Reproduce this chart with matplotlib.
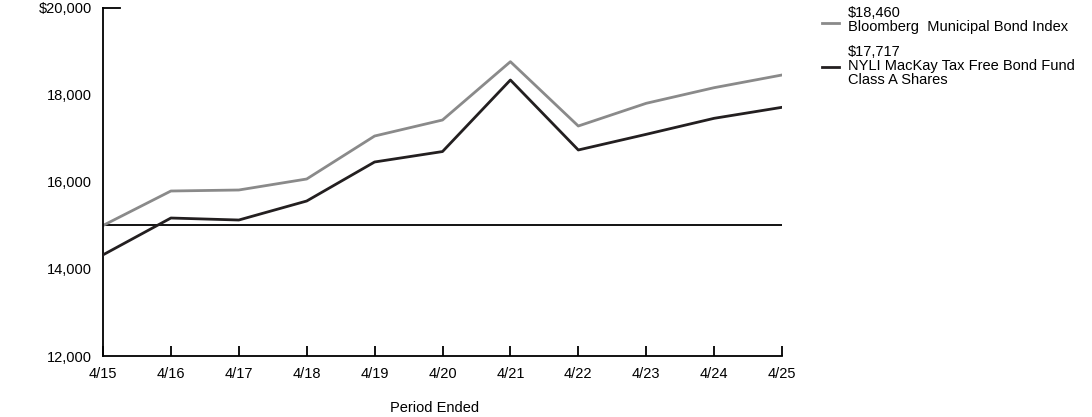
import numpy as np
import matplotlib.pyplot as plt

plt.rcParams['font.family'] = ['Liberation Sans', 'DejaVu Sans']

periods = ["4/15", "4/16", "4/17", "4/18", "4/19", "4/20", "4/21", "4/22", "4/23", "4/24", "4/25"]
index_values = [15000, 15793, 15816, 16069, 17057, 17425, 18766, 17287, 17809, 18168, 18460]
fund_values = [14325, 15172, 15126, 15563, 16460, 16700, 18345, 16736, 17096, 17464, 17717]
yticks = [12000, 14000, 16000, 18000, 20000]
ylabels = ["12,000", "14,000", "16,000", "18,000", "$20,000"]

index_color = "#8a8a8a"
fund_color = "#231f20"

fig = plt.figure(figsize=(10.92, 4.17), dpi=100)
ax = fig.add_axes([103/1092, 1-356/417, (782-103)/1092, (356-8)/417])

x = np.arange(len(periods))
ax.axhline(15000, color="black", lw=1.3, zorder=1)
ax.plot(x, index_values, color=index_color, lw=2, zorder=2)
ax.plot(x, fund_values, color=fund_color, lw=2, zorder=3)
# short mark at the top of the y axis
ax.axhline(20000, xmin=0, xmax=17/679, color="black", lw=1.3, clip_on=False)

ax.set_xlim(0, len(periods)-1)
ax.set_ylim(12000, 20000)
ax.set_xticks(x)
ax.set_xticklabels(periods, fontsize=10.5)
ax.set_yticks(yticks)
ax.set_yticklabels(ylabels, fontsize=10.5)
ax.tick_params(axis="x", direction="in", length=7, width=1.3, pad=8)
ax.tick_params(axis="y", length=0, pad=8)

for s in ["top", "right"]:
    ax.spines[s].set_visible(False)
ax.spines["left"].set_linewidth(1.3)
ax.spines["bottom"].set_linewidth(1.3)

fig.text(435/1092, 1-408/417, "Period Ended", ha="center", va="center", fontsize=10.5)

# legend drawn by hand
fig.add_artist(plt.Line2D([822/1092, 839/1092], [1-23/417, 1-23/417], color=index_color, lw=2))
fig.add_artist(plt.Line2D([822/1092, 839/1092], [1-67/417, 1-67/417], color=fund_color, lw=2))
fig.text(848/1092, 1-20/417, "$18,460\nBloomberg  Municipal Bond Index",
         ha="left", va="center", fontsize=10.5, linespacing=1.0)
fig.text(848/1092, 1-66/417, "$17,717\nNYLI MacKay Tax Free Bond Fund\nClass A Shares",
         ha="left", va="center", fontsize=10.5, linespacing=1.0)

fig.savefig("out.png", dpi=100)
